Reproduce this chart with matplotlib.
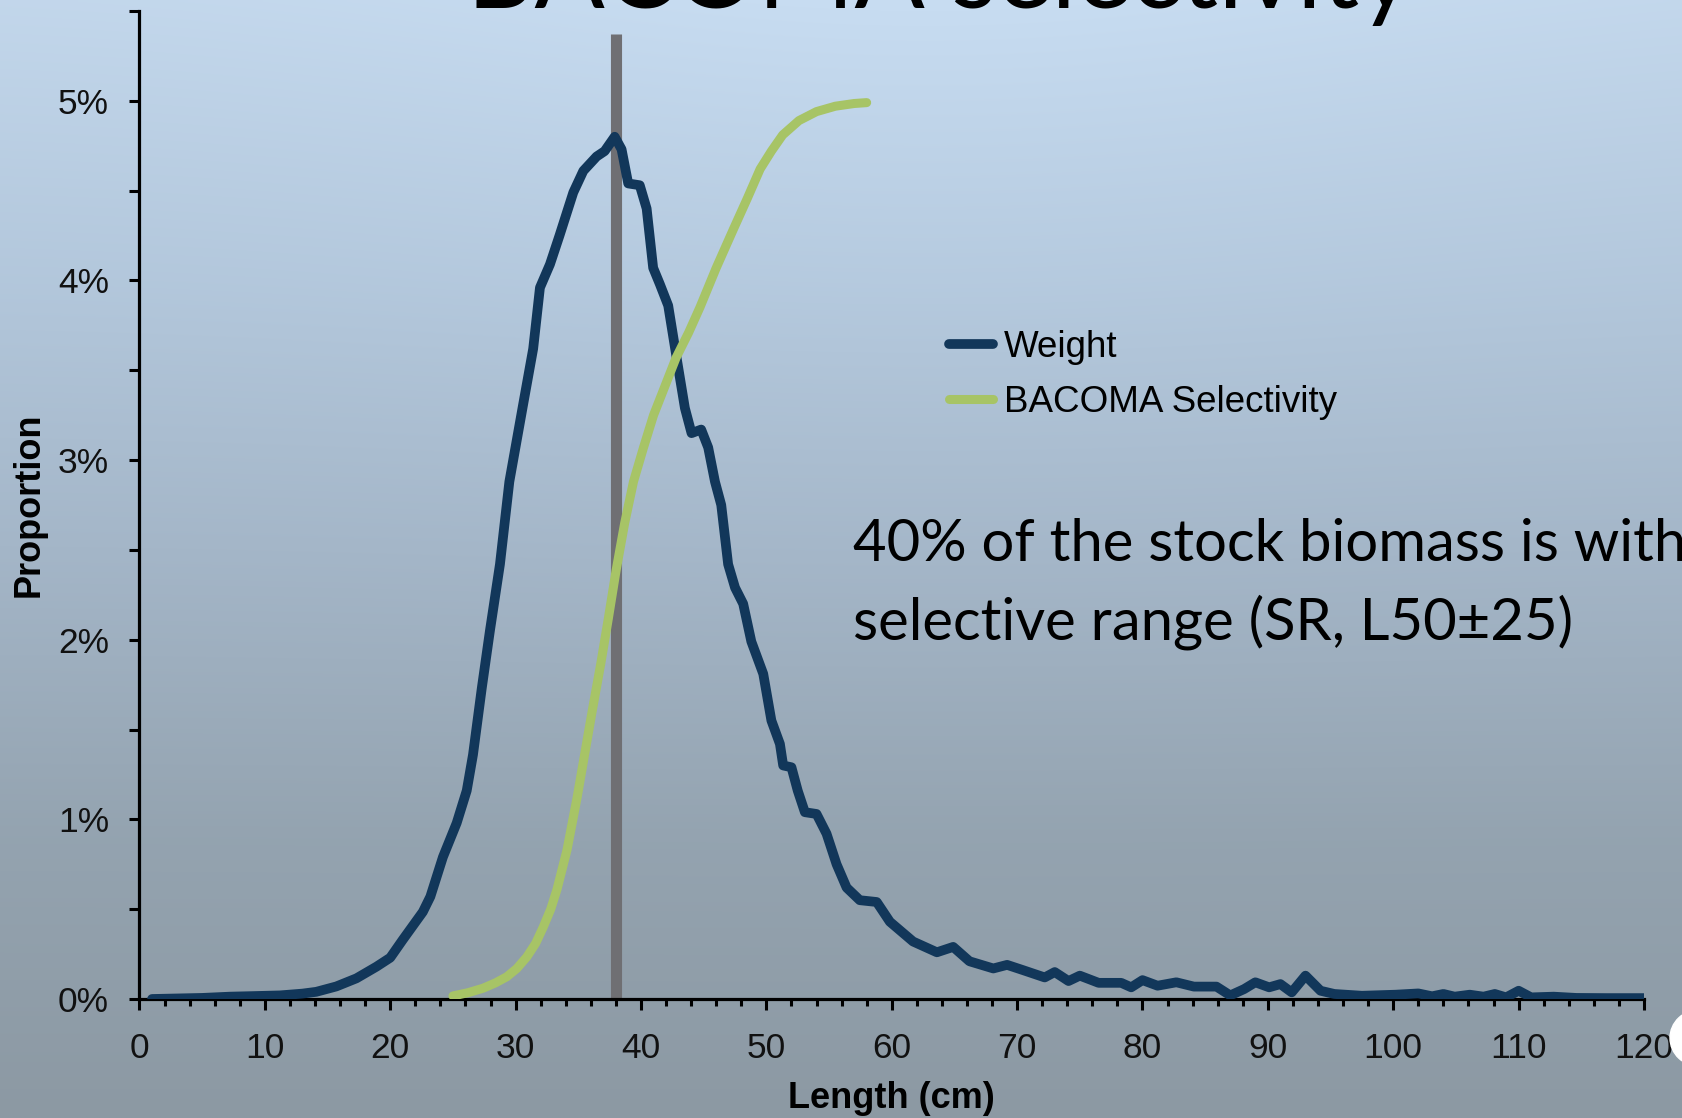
import numpy as np
import matplotlib
matplotlib.use("Agg")
import matplotlib.pyplot as plt
from matplotlib.ticker import MultipleLocator, PercentFormatter
from matplotlib.patches import Ellipse

plt.rcParams['font.family'] = ['Liberation Sans', 'DejaVu Sans']

# length classes (cm) and share of total stock weight (%)
lengths = [1, 3, 5, 7.2, 9, 11.2, 13, 14.1, 15.7, 17.3,
           18.9, 20.0, 21.0, 22.6, 23.2, 24.2, 25.3, 26.1, 26.6, 27.3,
           27.95, 28.75, 29.5, 30.6, 31.4, 31.94, 32.74, 33.5, 34.6, 35.4,
           36.46, 37.1, 37.9, 38.45, 38.98, 39.9, 40.45, 40.97, 41.5, 42.17,
           42.84, 43.5, 44.03, 44.8, 45.36, 45.9, 46.4, 46.95, 47.5, 48.15,
           48.8, 49.75, 50.4, 51.08, 51.34, 52.0, 52.5, 53.07, 54.0, 54.8,
           55.6, 56.4, 57.45, 58.8, 59.85, 61.7, 63.6, 64.9, 66.2, 68.1,
           69.2, 70.5, 72.2, 73.0, 74.1, 75.0, 76.5, 78.3, 79.1, 80.0,
           81.2, 82.7, 84.1, 85.9, 87.0, 88.1, 89.0, 90.1, 91.0, 91.9,
           93.0, 94.2, 95.3, 97.5, 100.2, 102.0, 103.1, 104.0, 104.9, 106.1,
           107.2, 108.1, 109.0, 110.0, 111.0, 112.8, 114.6, 117.0, 120.0]
weight_share = [0.0, 0.003, 0.006, 0.013, 0.016, 0.02, 0.03, 0.04, 0.07, 0.115,
                0.18, 0.23, 0.33, 0.485, 0.57, 0.79, 0.98, 1.16, 1.36, 1.73,
                2.05, 2.42, 2.88, 3.31, 3.62, 3.96, 4.09, 4.25, 4.49, 4.61,
                4.69, 4.72, 4.80, 4.73, 4.54, 4.53, 4.40, 4.07, 3.98, 3.86,
                3.57, 3.29, 3.15, 3.17, 3.07, 2.88, 2.75, 2.42, 2.29, 2.20,
                1.99, 1.81, 1.55, 1.42, 1.30, 1.29, 1.16, 1.04, 1.03, 0.92,
                0.75, 0.62, 0.55, 0.54, 0.43, 0.32, 0.26, 0.29, 0.21, 0.17,
                0.19, 0.16, 0.12, 0.15, 0.10, 0.13, 0.09, 0.09, 0.065, 0.105,
                0.074, 0.093, 0.069, 0.069, 0.02, 0.055, 0.093, 0.065, 0.083, 0.037,
                0.13, 0.046, 0.028, 0.018, 0.024, 0.031, 0.015, 0.028, 0.013, 0.024,
                0.013, 0.028, 0.009, 0.046, 0.009, 0.013, 0.006, 0.005, 0.005]

# BACOMA selectivity curve, scaled to the 5% mark
sel_lengths = [25.0, 26.2, 27.4, 28.4, 29.3, 30.1, 30.9, 31.6, 32.2, 32.8,
               33.3, 34.1, 34.9, 35.5, 36.1, 36.8, 37.4, 38.0, 38.7, 39.4,
               40.2, 41.0, 41.9, 42.8, 43.8, 44.7, 46.0, 47.4, 48.5, 49.5,
               50.4, 51.3, 52.6, 54.0, 55.5, 57.0, 58.0]
sel_share = [0.017, 0.035, 0.06, 0.09, 0.124, 0.17, 0.235, 0.31, 0.40, 0.50,
             0.61, 0.83, 1.12, 1.36, 1.60, 1.87, 2.12, 2.38, 2.65, 2.88,
             3.07, 3.25, 3.41, 3.57, 3.71, 3.85, 4.07, 4.29, 4.46, 4.62,
             4.72, 4.81, 4.89, 4.94, 4.97, 4.985, 4.99]

# L50 marker
l50 = 38.0
l50_top = 5.37

title_text = 'BACOMA selectivity'
note_lines = ['40% of the stock biomass is with',
              'selective range (SR, L50\u00b125)']

W, H = 1683, 1118
fig = plt.figure(figsize=(W / 100, H / 100), dpi=100)

# slide background: blue at the top fading to grey
bg = fig.add_axes([0, 0, 1, 1], zorder=-10)
stops = np.array([[0.76, 0.84, 0.92],
                  [0.70, 0.78, 0.86],
                  [0.64, 0.71, 0.78],
                  [0.58, 0.64, 0.69],
                  [0.55, 0.60, 0.64]])
t = np.linspace(0, 1, 300)
u = np.linspace(0, 1, 300)
col = np.stack([np.interp(t, np.linspace(0, 1, len(stops)), stops[:, i]) for i in range(3)], axis=1)
glow = 1 + 0.03 * np.exp(-((u[None, :] - 0.55) / 0.35) ** 2) * (1 - t[:, None]) ** 2
img = np.clip(col[:, None, :] * glow[:, :, None], 0, 1)
bg.imshow(img, aspect='auto', extent=[0, 1, 0, 1], origin='upper', interpolation='bilinear')
bg.axis('off')

ax = fig.add_axes([139.5 / W, 1 - 999 / H, (1644 - 139.5) / W, (999 - 11) / H])
ax.patch.set_alpha(0)

ax.vlines(l50, 0, l50_top, color='#6f6f73', lw=8, zorder=1)
ax.plot(lengths, weight_share, color='#12375a', lw=7, solid_capstyle='round',
        solid_joinstyle='round', label='Weight', zorder=3)
ax.plot(sel_lengths, sel_share, color='#a7c466', lw=6.5, solid_capstyle='round',
        solid_joinstyle='round', label='BACOMA Selectivity', zorder=4)

ax.set_xlim(0, 120)
ax.set_ylim(0, 5.5)
ax.xaxis.set_major_locator(MultipleLocator(10))
ax.xaxis.set_minor_locator(MultipleLocator(2))
ax.yaxis.set_major_locator(MultipleLocator(1))
ax.yaxis.set_minor_locator(MultipleLocator(0.5))
ax.yaxis.set_major_formatter(PercentFormatter(100, decimals=0))

for s in ['top', 'right']:
    ax.spines[s].set_visible(False)
for s in ['left', 'bottom']:
    ax.spines[s].set_linewidth(2.3)
    ax.spines[s].set_color('black')

ax.tick_params(axis='x', which='major', length=8, width=2.2, pad=16, labelsize=25.5, labelcolor='#111111')
ax.tick_params(axis='x', which='minor', length=5, width=2.2)
ax.tick_params(axis='y', which='both', length=7, width=2.2)
ax.tick_params(axis='y', which='major', pad=15, labelsize=25.5, labelcolor='#111111')

ax.set_xlabel('Length (cm)', fontsize=26, fontweight='bold', labelpad=11)
ax.set_ylabel('Proportion', fontsize=26, fontweight='bold', labelpad=8)

ax.legend(loc='upper left', bbox_to_anchor=(949 / W, 1 - 330 / H), bbox_transform=fig.transFigure,
          frameon=False, fontsize=26.5, handlelength=1.2, handletextpad=0.3,
          labelspacing=0.55, borderpad=0, borderaxespad=0)

# slide title and note
fig.text(467 / W, 1 - 8 / H, title_text, fontsize=75, family=['Lato', 'DejaVu Sans'],
         va='baseline', color='black')
fig.text(853 / W, 1 - 561 / H, note_lines[0], fontsize=41.8, family=['Lato', 'DejaVu Sans'],
         va='baseline', color='black')
fig.text(853 / W, 1 - 639 / H, note_lines[1], fontsize=41.8, family=['Lato', 'DejaVu Sans'],
         va='baseline', color='black')

fig.patches.append(Ellipse((1700 / W, 1 - 1038 / H), 60 / W, 57 / H, color='white',
                           transform=fig.transFigure, figure=fig))

fig.savefig('out.png', dpi=100)
